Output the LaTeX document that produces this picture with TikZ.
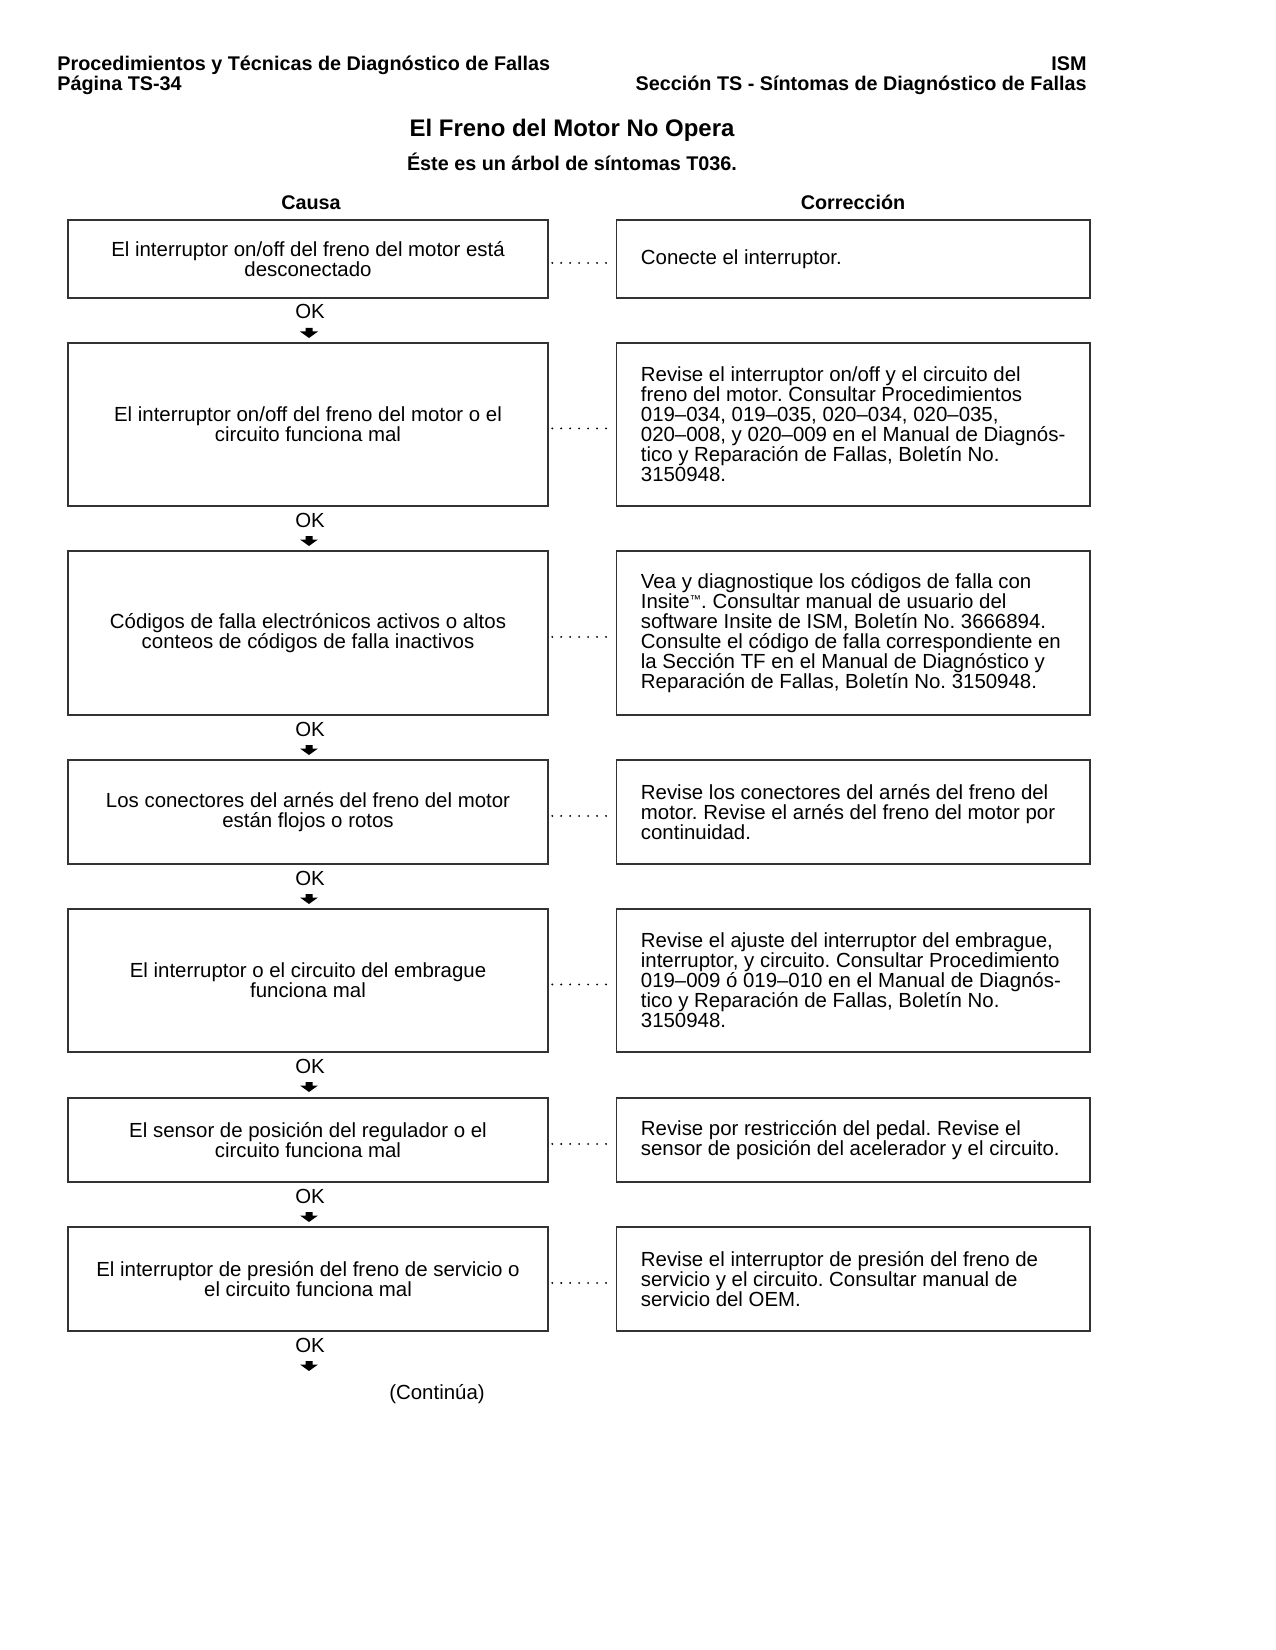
\documentclass[tikz,border=0pt]{standalone}
\usepackage{fontspec}
\setmainfont{Liberation Sans}
\frenchspacing
\newcommand\tmark{\raisebox{2.2pt}{\fontsize{5.5}{5.5}\selectfont ™}}
\begin{document}
\begin{tikzpicture}[x=0.48pt,y=-0.48pt,
  hdr/.style={font=\bfseries\fontsize{9.5}{11}\selectfont, inner sep=0pt},
  body/.style={font=\fontsize{9.8}{9.6}\selectfont},
  lbox/.style={body, draw=black!80, line width=0.5pt, minimum width=230.4pt, align=center, inner sep=0pt},
  rbox/.style={draw=black!80, line width=0.5pt, minimum width=227.5pt, inner sep=0pt},
  rtext/.style={body, align=left, anchor=west, inner sep=0pt},
  oklab/.style={body, anchor=base, inner sep=0pt},
  dotlink/.style={line width=1pt, line cap=round, dash pattern=on 0pt off 4.3pt, shorten <=1.8pt, shorten >=1.8pt},
  downarr/.pic={\fill (-3.5,-5)--(3.5,-5)--(3.5,-1.5)--(9,-1.5)--(0,5)--(-9,-1.5)--(-3.5,-1.5)--cycle;}
]
\useasboundingbox (0,0) rectangle (1275,1650);

% header
\node[hdr, anchor=base west] (h1) at (57,71) {Procedimientos y Técnicas de Diagnóstico de Fallas};
\node[hdr, anchor=base west] (h2) at (57,91) {Página TS-34};
\node[hdr, anchor=base east] (h3) at (1087,71) {ISM};
\node[hdr, anchor=base east] (h4) at (1087,91) {Sección TS - Síntomas de Diagnóstico de Fallas};
\node[hdr, font=\bfseries\fontsize{11.5}{13}\selectfont, anchor=base] (title) at (572,137) {El Freno del Motor No Opera};
\node[hdr, anchor=base] (sub) at (572,171) {Éste es un árbol de síntomas T036.};
\node[hdr, anchor=base] (causa) at (311,210) {Causa};
\node[hdr, anchor=base] (corr) at (853,210) {Corrección};

% row 1
\node[lbox, minimum height=78*0.48pt] (c1) at (308,259) {El interruptor on/off del freno del motor está\\desconectado};
\node[rbox, minimum height=78*0.48pt] (r1) at (853,259) {};
\node[rtext] (t1) at ([xshift=12pt]r1.west) {Conecte el interruptor.};
\draw[dotlink] ([yshift=-1.9pt]c1.east) -- ([yshift=-1.9pt]r1.west);
\node[oklab] (ok1) at (310,319) {OK};
\coordinate (a1) at (309,333);
\pic at (a1) {downarr};

% row 2
\node[lbox, minimum height=163*0.48pt] (c2) at (308,424.5) {El interruptor on/off del freno del motor o el\\circuito funciona mal};
\node[rbox, minimum height=163*0.48pt] (r2) at (853,424.5) {};
\node[rtext] (t2) at ([xshift=12pt]r2.west) {Revise el interruptor on/off y el circuito del\\freno del motor. Consultar Procedimientos\\019–034, 019–035, 020–034, 020–035,\\020–008, y 020–009 en el Manual de Diagnós-\\tico y Reparación de Fallas, Boletín No.\\3150948.};
\draw[dotlink] ([yshift=-1.9pt]c2.east) -- ([yshift=-1.9pt]r2.west);
\node[oklab] (ok2) at (310,527) {OK};
\coordinate (a2) at (309,541);
\pic at (a2) {downarr};

% row 3
\node[lbox, minimum height=164*0.48pt] (c3) at (308,633) {Códigos de falla electrónicos activos o altos\\conteos de códigos de falla inactivos};
\node[rbox, minimum height=164*0.48pt] (r3) at (853,633) {};
\node[rtext] (t3) at ([xshift=12pt]r3.west) {Vea y diagnostique los códigos de falla con\\Insite\tmark. Consultar manual de usuario del\\software Insite de ISM, Boletín No. 3666894.\\Consulte el código de falla correspondiente en\\la Sección TF en el Manual de Diagnóstico y\\Reparación de Fallas, Boletín No. 3150948.};
\draw[dotlink] ([yshift=-1.9pt]c3.east) -- ([yshift=-1.9pt]r3.west);
\node[oklab] (ok3) at (310,736) {OK};
\coordinate (a3) at (309,750);
\pic at (a3) {downarr};

% row 4
\node[lbox, minimum height=104*0.48pt] (c4) at (308,812) {Los conectores del arnés del freno del motor\\están flojos o rotos};
\node[rbox, minimum height=104*0.48pt] (r4) at (853,812) {};
\node[rtext] (t4) at ([xshift=12pt]r4.west) {Revise los conectores del arnés del freno del\\motor. Revise el arnés del freno del motor por\\continuidad.};
\draw[dotlink] ([yshift=-1.9pt]c4.east) -- ([yshift=-1.9pt]r4.west);
\node[oklab] (ok4) at (310,885) {OK};
\coordinate (a4) at (309,899);
\pic at (a4) {downarr};

% row 5
\node[lbox, minimum height=143*0.48pt] (c5) at (308,980.5) {El interruptor o el circuito del embrague\\funciona mal};
\node[rbox, minimum height=143*0.48pt] (r5) at (853,980.5) {};
\node[rtext] (t5) at ([xshift=12pt]r5.west) {Revise el ajuste del interruptor del embrague,\\interruptor, y circuito. Consultar Procedimiento\\019–009 ó 019–010 en el Manual de Diagnós-\\tico y Reparación de Fallas, Boletín No.\\3150948.};
\draw[dotlink] ([yshift=-1.9pt]c5.east) -- ([yshift=-1.9pt]r5.west);
\node[oklab] (ok5) at (310,1073) {OK};
\coordinate (a5) at (309,1087);
\pic at (a5) {downarr};

% row 6
\node[lbox, minimum height=84*0.48pt] (c6) at (308,1140) {El sensor de posición del regulador o el\\circuito funciona mal};
\node[rbox, minimum height=84*0.48pt] (r6) at (853,1140) {};
\node[rtext] (t6) at ([xshift=12pt]r6.west) {Revise por restricción del pedal. Revise el\\sensor de posición del acelerador y el circuito.};
\draw[dotlink] ([yshift=-1.9pt]c6.east) -- ([yshift=-1.9pt]r6.west);
\node[oklab] (ok6) at (310,1203) {OK};
\coordinate (a6) at (309,1217);
\pic at (a6) {downarr};

% row 7
\node[lbox, minimum height=104*0.48pt] (c7) at (308,1279) {El interruptor de presión del freno de servicio o\\el circuito funciona mal};
\node[rbox, minimum height=104*0.48pt] (r7) at (853,1279) {};
\node[rtext] (t7) at ([xshift=12pt]r7.west) {Revise el interruptor de presión del freno de\\servicio y el circuito. Consultar manual de\\servicio del OEM.};
\draw[dotlink] ([yshift=-1.9pt]c7.east) -- ([yshift=-1.9pt]r7.west);
\node[oklab] (ok7) at (310,1352) {OK};
\coordinate (a7) at (309,1366);
\pic at (a7) {downarr};

\node[oklab] (cont) at (437,1399) {(Continúa)};
\end{tikzpicture}
\end{document}
